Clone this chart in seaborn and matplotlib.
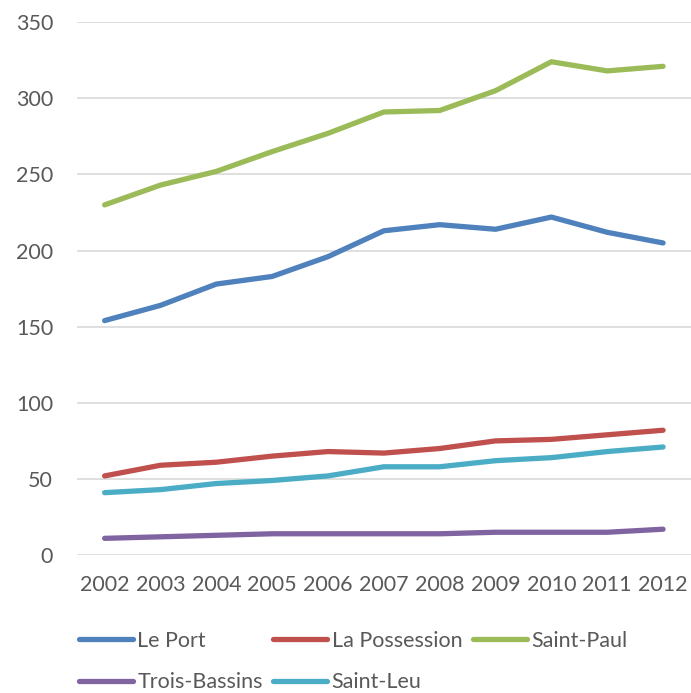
import matplotlib
matplotlib.use("Agg")
import matplotlib.pyplot as plt
import seaborn as sns
import pandas as pd

years = [2002, 2003, 2004, 2005, 2006, 2007, 2008, 2009, 2010, 2011, 2012]
le_port = [154, 164, 178, 183, 196, 213, 217, 214, 222, 212, 205]
la_possession = [52, 59, 61, 65, 68, 67, 70, 75, 76, 79, 82]
saint_paul = [230, 243, 252, 265, 277, 291, 292, 305, 324, 318, 321]
trois_bassins = [11, 12, 13, 14, 14, 14, 14, 15, 15, 15, 17]
saint_leu = [41, 43, 47, 49, 52, 58, 58, 62, 64, 68, 71]

series = {
    "Le Port": le_port,
    "La Possession": la_possession,
    "Saint-Paul": saint_paul,
    "Trois-Bassins": trois_bassins,
    "Saint-Leu": saint_leu,
}
colors = {
    "Le Port": "#4F81BD",
    "La Possession": "#C0504D",
    "Saint-Paul": "#9BBB59",
    "Trois-Bassins": "#8064A2",
    "Saint-Leu": "#4BACC6",
}

rows = []
for name, vals in series.items():
    for i, (yr, v) in enumerate(zip(years, vals)):
        rows.append({"pos": i, "year": str(yr), "commune": name, "value": v})
df = pd.DataFrame(rows)

sns.set_theme(style="white")
plt.rcParams["font.family"] = ["Lato", "DejaVu Sans"]
text_color = "#595959"
fs = 15.5

fig = plt.figure(figsize=(6.91, 6.93), dpi=100)
ax = fig.add_axes([0.111, 0.199, 0.889, 0.769])

sns.lineplot(data=df, x="pos", y="value", hue="commune", palette=colors,
             hue_order=list(series.keys()), linewidth=3.8, ax=ax,
             legend=False)
for line in ax.get_lines():
    line.set_solid_capstyle("round")
    line.set_solid_joinstyle("round")

ax.set_xlim(-0.5, len(years) - 0.5)
ax.set_ylim(0, 350)
ax.set_yticks(range(0, 351, 50))
ax.set_xticks(range(len(years)))
ax.set_xticklabels([str(y) for y in years])
ax.yaxis.grid(True, color="#D9D9D9", linewidth=1.2)
ax.set_axisbelow(True)
for s in ax.spines.values():
    s.set_visible(False)
ax.tick_params(axis="both", length=0, labelsize=fs, colors=text_color)
ax.tick_params(axis="y", pad=17)
ax.tick_params(axis="x", pad=14)
ax.set_xlabel("")
ax.set_ylabel("")

# legend: filled row-wise as in the reference
order = ["Le Port", "Trois-Bassins", "La Possession", "Saint-Leu", "Saint-Paul"]
handles = [plt.Line2D([], [], color=colors[n], linewidth=3.8,
                      solid_capstyle="round") for n in order]
leg = fig.legend(handles, order, ncol=3, loc="upper left",
                 bbox_to_anchor=(0.102, 0.102), frameon=False,
                 fontsize=fs, handlelength=2.5, handletextpad=0.2,
                 columnspacing=0.5, labelspacing=1.0, borderaxespad=0)
for t in leg.get_texts():
    t.set_color(text_color)

fig.savefig("out.png", dpi=100)
plt.close()
